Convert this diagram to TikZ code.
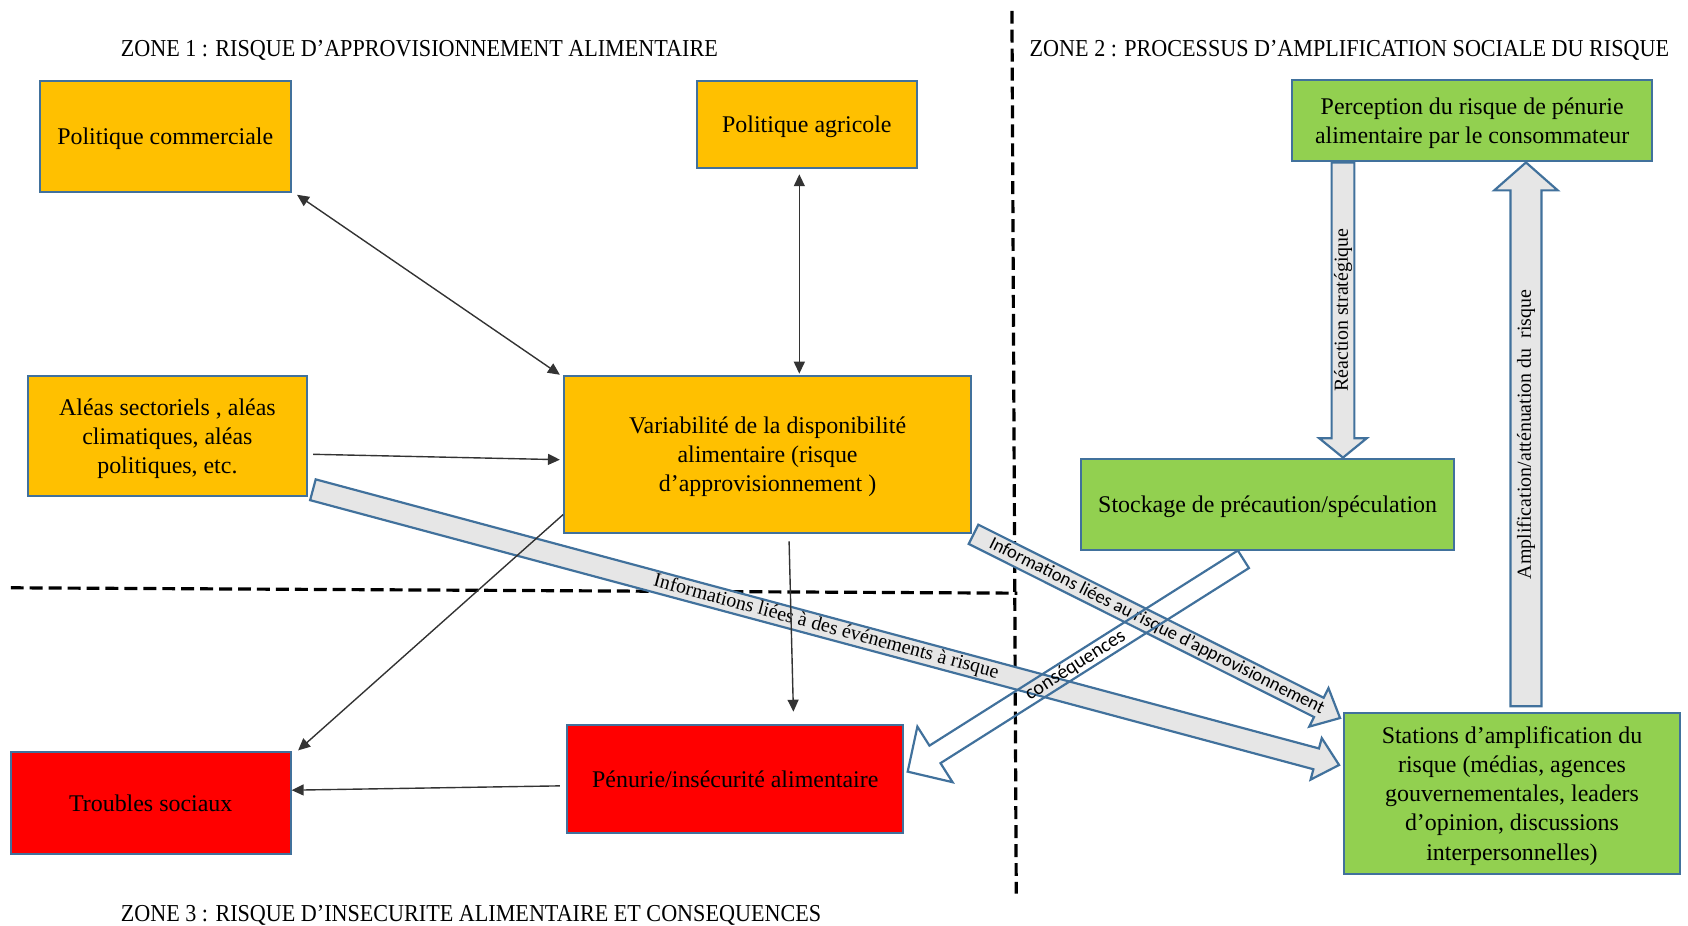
\documentclass[tikz,border=0pt]{standalone}
\usepackage{fontspec}
\setmainfont{Liberation Serif}
\newfontfamily\calibri{Carlito}
\usepackage{graphicx}
\usepackage{tikz}
\usetikzlibrary{arrows.meta,calc}

\definecolor{zorange}{HTML}{FFC000}
\definecolor{zgreen}{HTML}{92D050}
\definecolor{zred}{HTML}{FF0000}
\definecolor{zline}{HTML}{41719C}
\definecolor{zgray}{HTML}{E6E6E6}

% [options] start end half-shaft half-head head-length
\newcommand{\blockarrow}[6][]{%
	\coordinate (ba-b) at ($(#3)!#6!(#2)$);
	\draw[blockarr,#1] ($(#2)!#4!90:(#3)$) -- ($(ba-b)!#4!90:(#3)$) -- ($(ba-b)!#5!90:(#3)$) -- (#3)
		-- ($(ba-b)!#5!-90:(#3)$) -- ($(ba-b)!#4!-90:(#3)$) -- ($(#2)!#4!-90:(#3)$) -- cycle;
}

\begin{document}
\begin{tikzpicture}[x=0.54pt,y=-0.54pt, >={Triangle[length=6pt,width=5.5pt]}]
	\tikzstyle{box} = [rectangle, draw=zline, line width=1pt, align=center, inner sep=2pt, text depth=0pt, font=\fontsize{12}{14.6}\selectfont]
	\tikzstyle{zone} = [inner sep=0pt, font=\fontsize{12.2}{14}\selectfont]
	\tikzstyle{zonesep} = [line width=1.6pt, dash pattern=on 6.5pt off 3pt]
	\tikzstyle{link} = [black!80, line width=0.7pt]
	\tikzstyle{blockarr} = [draw=zline, fill=zgray, line width=1.1pt, line join=miter]
	\tikzstyle{lbl} = [inner sep=0pt, font=\calibri\fontsize{9.3}{11}\selectfont]
	\tikzstyle{slbl} = [inner sep=0pt, font=\fontsize{10}{12}\selectfont]

	\useasboundingbox (0,0) rectangle (1568,860);

%----------Zones------------------------------
	\node[zone] (z1) at (389.5,47) {\scalebox{0.91}[1]{ZONE 1 : RISQUE D’APPROVISIONNEMENT ALIMENTAIRE}};
	\node[zone] (z2) at (1253.5,47) {\scalebox{0.91}[1]{ZONE 2 : PROCESSUS D’AMPLIFICATION SOCIALE DU RISQUE}};
	\node[zone] (z3) at (437.5,850) {\scalebox{0.91}[1]{ZONE 3 : RISQUE D’INSECURITE ALIMENTAIRE ET CONSEQUENCES}};

	\coordinate (vtop) at (940,10);
	\coordinate (vbot) at (944,830);
	\coordinate (hleft) at (10,546);
	\coordinate (hright) at (945,551);
	\draw[zonesep] (vtop) -- (vbot);
	\draw[zonesep] (hleft) -- (hright);

%----------Zone 1------------------------------
	\node[box, fill=zorange, minimum width=125.8pt, minimum height=55.6pt] (pcom) at (153.5,126.5) {Politique commerciale};
	\node[box, fill=zorange, minimum width=110.7pt, minimum height=43.7pt] (pagr) at (749.5,115.5) {Politique agricole};
	\node[box, fill=zorange, minimum width=139.9pt, minimum height=60.5pt] (aleas) at (155.5,405) {Aléas sectoriels , aléas\\climatiques, aléas\\politiques, etc.};
	\node[box, fill=zorange, minimum width=204.1pt, minimum height=78.8pt] (vari) at (713,422) {Variabilité de la disponibilité\\alimentaire (risque\\d’approvisionnement )};

%----------Zone 3------------------------------
	\node[box, fill=zred, minimum width=140.4pt, minimum height=50.8pt] (troub) at (140,746) {Troubles sociaux};
	\node[box, fill=zred, minimum width=168.5pt, minimum height=54.5pt] (penu) at (683,723.5) {Pénurie/insécurité alimentaire};

%----------Zone 2------------------------------
	\node[box, fill=zgreen, minimum width=180.9pt, minimum height=41pt] (perc) at (1367.5,112) {Perception du risque de pénurie\\alimentaire par le consommateur};
	\node[box, fill=zgreen, minimum width=187.4pt, minimum height=45.9pt] (stock) at (1177.5,468.5) {Stockage de précaution/spéculation};
	\node[box, fill=zgreen, minimum width=169pt, minimum height=81pt] (stat) at (1404.5,737) {Stations d’amplification du\\risque (médias, agences\\gouvernementales, leaders\\d’opinion, discussions\\interpersonnelles)};

%----------Block arrows------------------------------
	\coordinate (ev-s) at ($(aleas.south east)+(4.7,-7)$);
	\coordinate (ev-e) at ($(stat.west)+(-3.2,-26.4)$);
	\blockarrow{ev-s}{ev-e}{5.4pt}{10.8pt}{11.9pt}
	\path (ev-s) -- (ev-e) node[midway, sloped, slbl] {Informations liées à des événements à risque};

	\coordinate (ap-s) at ($(vari.south east)+(1.4,0.4)$);
	\coordinate (ap-e) at ($(stat.north west)+(-2.3,5.9)$);
	\blockarrow{ap-s}{ap-e}{5.4pt}{10.8pt}{11.9pt}
	\path (ap-s) -- (ap-e) node[midway, sloped, lbl] {Informations liées au risque d’approvisionnement};

	\coordinate (co-s) at ($(stock.south)+(-22.5,7.6)$);
	\coordinate (co-e) at ($(penu.east)+(3.2,-6.7)$);
	\blockarrow[fill=none]{co-s}{co-e}{5.2pt}{16.5pt}{16.2pt}
	\path (co-s) -- (co-e) node[midway, sloped, lbl, font=\calibri\fontsize{10}{12}\selectfont] {conséquences};

	\coordinate (rea-s) at ($(perc.south)+(-120,0)$);
	\coordinate (rea-e) at (rea-s |- stock.north);
	\blockarrow{rea-s}{rea-e}{5.7pt}{11.9pt}{9.7pt}
	\path (rea-e) -- (rea-s) node[midway, sloped, slbl] {Réaction stratégique};

	\coordinate (amp-s) at ($(stat.north)+(13,-5)$);
	\coordinate (amp-e) at (amp-s |- perc.south);
	\blockarrow{amp-s}{amp-e}{7.8pt}{15.9pt}{14pt}
	\path (amp-s) -- (amp-e) node[midway, sloped, slbl] {Amplification/atténuation du~~risque};

%----------Links------------------------------
	\coordinate (agr) at ($(pagr.south)+(-7,0)$);
	\draw[link, <->] ($(pcom.south east)+(5,2)$) -- ($(vari.north west)+(-3,0)$);
	\draw[link, <->] ($(agr)+(0,5)$) -- ($(agr |- vari.north)+(0,-1)$);
	\draw[link, ->] ($(aleas.east)+(5,17)$) -- ($(vari.west)+(-3,5)$);
	\draw[link, ->] ($(vari.west)+(0,56)$) -- ($(troub.north east)+(6,-1)$);
	\draw[link, ->] ($(vari.south)+(20,7)$) -- ($(penu.north)+(54,-11)$);
	\draw[link, ->] ($(penu.west)+(-6,6.5)$) -- ($(troub.east)+(0,-12)$);

\end{tikzpicture}
\end{document}
